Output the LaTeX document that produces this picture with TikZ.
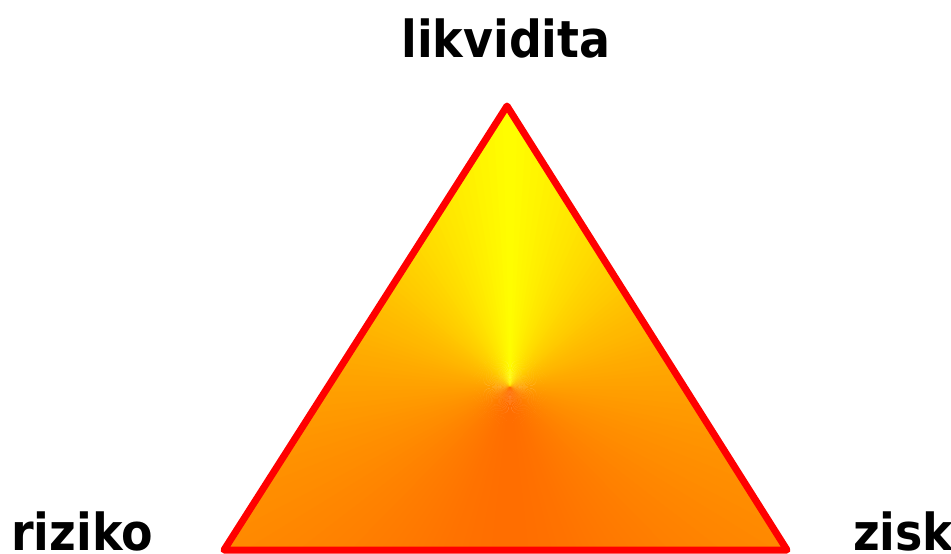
\documentclass[tikz,border=0pt]{standalone}
\usepackage{fontspec}
\setmainfont{DejaVu Sans}
\begin{document}
\begin{tikzpicture}[x=1pt,y=-1pt,
  lbl/.style={font=\bfseries\fontsize{51}{51}\selectfont, inner sep=0pt, xscale=0.9, text=black}]
\useasboundingbox (0,0) rectangle (951,554);
\coordinate (A) at (507,106);
\coordinate (B) at (224,550);
\coordinate (C) at (787,550);
\coordinate (O) at (510,387);
\begin{scope}
  \clip (A) -- (B) -- (C) -- cycle;
  \foreach \t in {0,2,...,178}{
    \pgfmathtruncatemacro\g{110+145*(1-(\t+1)/180)^1.5}
    \definecolor{wc}{RGB}{255,\g,0}
    \fill[wc,shift={(O)}] (0,0) -- (-90+\t-0.4:700) -- (-90+\t+2.4:700) -- cycle;
    \fill[wc,shift={(O)}] (0,0) -- (-90-\t+0.4:700) -- (-90-\t-2.4:700) -- cycle;
  }
\end{scope}
\draw[red, line width=7pt, line join=round] (A) -- (B) -- (C) -- cycle;
\node[lbl, anchor=base] (lik) at (506,57) {likvidita};
\node[lbl, anchor=base west] (riz) at (11,550) {riziko};
\node[lbl, anchor=base west] (zis) at (853,550) {zisk};
\end{tikzpicture}
\end{document}
